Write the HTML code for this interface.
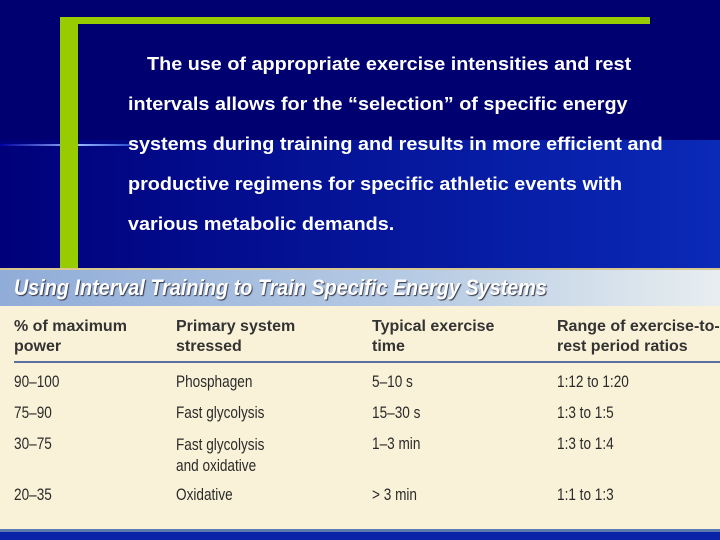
<!DOCTYPE html>
<html><head><meta charset="utf-8"><style>
body{margin:0;width:720px;height:540px;overflow:hidden;position:relative;font-family:"Liberation Sans",sans-serif;
background:linear-gradient(180deg,#000070 0,#000070 140px,#0a1a9a 150px,#0a22a8 540px);}
.abs{position:absolute}
.slide-text{color:#fff;font-weight:bold;font-size:18px;white-space:nowrap;transform:scaleX(1.1);transform-origin:0 0}
.tbl{font-family:"Liberation Sans",sans-serif;color:#2a2a2a;font-size:17px;white-space:nowrap;transform:scaleX(0.8);transform-origin:0 0}
.hd{font-weight:bold;color:#333;font-size:16px;line-height:20px;transform:scaleX(1)}
</style></head><body>
<div class="abs" style="left:0;top:140px;width:720px;height:130px;background:linear-gradient(90deg,#00007a,#0a2ab8)"></div>
<div class="abs" style="left:0;top:144px;width:130px;height:2px;background:linear-gradient(90deg,#0000a0,#9ab8ff 60%,#3050d0)"></div>
<div class="abs" style="left:60px;top:17px;width:18px;height:255px;background:#99cc00"></div>
<div class="abs" style="left:60px;top:17px;width:590px;height:7px;background:#99cc00"></div>
<div class="abs slide-text" style="left:147px;top:54px">The use of appropriate exercise intensities and rest</div>
<div class="abs slide-text" style="left:128px;top:94px">intervals allows for the “selection” of specific energy</div>
<div class="abs slide-text" style="left:128px;top:134px">systems during training and results in more efficient and</div>
<div class="abs slide-text" style="left:128px;top:174px">productive regimens for specific athletic events with</div>
<div class="abs slide-text" style="left:128px;top:214px">various metabolic demands.</div>

<div class="abs" style="left:0;top:268px;width:720px;height:259px;background:#faf2d8;border-top:2px solid #d8c890;border-bottom:3px solid #5a7ab0">
 <div class="abs" style="left:0;top:0;width:720px;height:36px;background:linear-gradient(90deg,#90acd8,#b8cce4 60%,#e8eef0)"></div>
 <div class="abs" style="left:14px;top:5px;font-weight:bold;font-style:italic;font-size:22px;color:#fff;text-shadow:1px 1px 1px #334;white-space:nowrap;transform:scaleX(0.9);transform-origin:0 0">Using Interval Training to Train Specific Energy Systems</div>
 <div class="abs tbl hd" style="left:14px;top:47px">% of maximum<br>power</div>
 <div class="abs tbl hd" style="left:176px;top:47px">Primary system<br>stressed</div>
 <div class="abs tbl hd" style="left:372px;top:47px">Typical exercise<br>time</div>
 <div class="abs tbl hd" style="left:557px;top:47px">Range of exercise-to-<br>rest period ratios</div>
 <div class="abs" style="left:14px;top:91px;width:706px;height:2px;background:#5a70a0"></div>

 <div class="abs tbl" style="left:14px;top:102px">90–100</div>
 <div class="abs tbl" style="left:176px;top:102px">Phosphagen</div>
 <div class="abs tbl" style="left:372px;top:102px">5–10 s</div>
 <div class="abs tbl" style="left:557px;top:102px">1:12 to 1:20</div>

 <div class="abs tbl" style="left:14px;top:133px">75–90</div>
 <div class="abs tbl" style="left:176px;top:133px">Fast glycolysis</div>
 <div class="abs tbl" style="left:372px;top:133px">15–30 s</div>
 <div class="abs tbl" style="left:557px;top:133px">1:3 to 1:5</div>

 <div class="abs tbl" style="left:14px;top:164px">30–75</div>
 <div class="abs tbl" style="left:176px;top:164px;line-height:21px">Fast glycolysis<br>and oxidative</div>
 <div class="abs tbl" style="left:372px;top:164px">1–3 min</div>
 <div class="abs tbl" style="left:557px;top:164px">1:3 to 1:4</div>

 <div class="abs tbl" style="left:14px;top:215px">20–35</div>
 <div class="abs tbl" style="left:176px;top:215px">Oxidative</div>
 <div class="abs tbl" style="left:372px;top:215px">&gt; 3 min</div>
 <div class="abs tbl" style="left:557px;top:215px">1:1 to 1:3</div>
</div>
</body></html>
